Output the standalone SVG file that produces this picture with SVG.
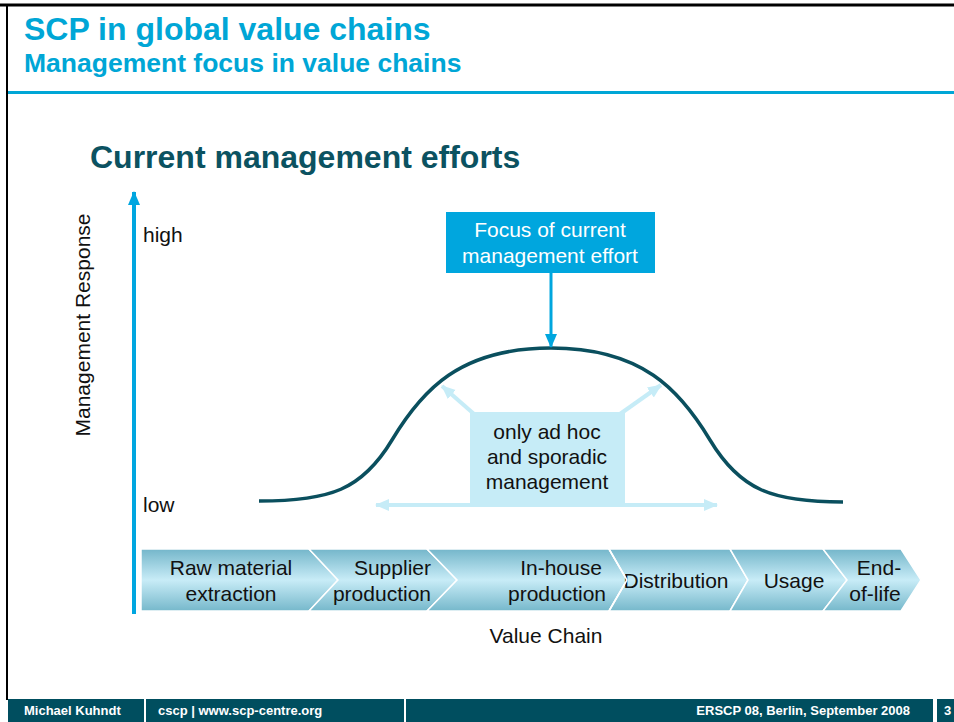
<svg xmlns="http://www.w3.org/2000/svg" width="954" height="722" viewBox="0 0 954 722">
<style>
.t{font-family:"Liberation Sans",Arial,sans-serif;}
.lbl{font-family:"Liberation Sans",Arial,sans-serif;font-size:21px;fill:#111;}
.foot{font-family:"Liberation Sans",Arial,sans-serif;font-size:13px;font-weight:bold;fill:#fff;}
.chev{fill:url(#chevGrad);stroke:#fff;stroke-width:1.5;}
</style>
<defs>
<linearGradient id="chevGrad" x1="0" y1="0" x2="0" y2="1">
<stop offset="0" stop-color="#74B6CA"/>
<stop offset="0.5" stop-color="#C8ECF7"/>
<stop offset="1" stop-color="#76B8CB"/>
</linearGradient>
<marker id="axisHead" markerUnits="userSpaceOnUse" markerWidth="14" markerHeight="14" refX="13" refY="7" orient="auto">
<path d="M0,1 L14,7 L0,13 Z" fill="#00A6E0"/>
</marker>
<marker id="focusHead" markerUnits="userSpaceOnUse" markerWidth="14" markerHeight="14" refX="13" refY="7" orient="auto">
<path d="M0,1 L14,7 L0,13 Z" fill="#00A6DE"/>
</marker>
<marker id="lightHead" markerUnits="userSpaceOnUse" markerWidth="14" markerHeight="14" refX="13" refY="7" orient="auto-start-reverse">
<path d="M0,1 L14,7 L0,13 Z" fill="#C6ECF7"/>
</marker>
</defs>
<rect width="954" height="722" fill="#fff"/>
<!-- frame -->
<line x1="0" y1="5" x2="954" y2="5" stroke="#000" stroke-width="3"/>
<line x1="7" y1="5" x2="7" y2="700" stroke="#000" stroke-width="2"/>
<rect x="8" y="91" width="946" height="3" fill="#00A6D6"/>
<!-- header -->
<g id="header">
<text class="t" x="24" y="40" font-size="32" font-weight="bold" fill="#00A6D6">SCP in global value chains</text>
<text class="t" x="24" y="72" font-size="26.5" font-weight="bold" fill="#00A6D6">Management focus in value chains</text>
<text class="t" x="90" y="168" font-size="32" font-weight="bold" fill="#0B5261">Current management efforts</text>
</g>
<!-- axis -->
<g id="axis">
<line x1="134" y1="614" x2="134" y2="192" stroke="#00A6E0" stroke-width="4" marker-end="url(#axisHead)"/>
<text class="lbl" transform="translate(90,325) rotate(-90)" text-anchor="middle">Management Response</text>
<text class="lbl" x="143" y="242">high</text>
<text class="lbl" x="143" y="512">low</text>
</g>
<!-- curve -->
<g id="curve">
<path d="M259,501 C330,501 362,490 392,440 C422,390 460,348 551,348 C642,348 680,390 710,440 C740,490 772,502 843,502" fill="none" stroke="#0A4F5E" stroke-width="3.5"/>
</g>
<!-- connectors -->
<g id="connectors">
<line x1="551" y1="273" x2="551" y2="347" stroke="#00A6DE" stroke-width="3" marker-end="url(#focusHead)"/>
<line x1="376" y1="505" x2="717" y2="505" stroke="#C6ECF7" stroke-width="4" marker-start="url(#lightHead)" marker-end="url(#lightHead)"/>
<line x1="474" y1="414" x2="442" y2="386" stroke="#C6ECF7" stroke-width="4" marker-end="url(#lightHead)"/>
<line x1="620" y1="414" x2="661" y2="385" stroke="#C6ECF7" stroke-width="4" marker-end="url(#lightHead)"/>
</g>
<!-- focus box -->
<g id="focus">
<rect x="446" y="212" width="209" height="61" fill="#00A6DE"/>
<text class="t" x="550" y="237" font-size="21" fill="#fff" text-anchor="middle">Focus of current</text>
<text class="t" x="550" y="263" font-size="21" fill="#fff" text-anchor="middle">management effort</text>
</g>
<!-- ad hoc box -->
<g id="adhoc">
<rect x="470" y="412" width="155" height="91" fill="#C6ECF7"/>
<text class="lbl" x="547" y="439" text-anchor="middle">only ad hoc</text>
<text class="lbl" x="547" y="464" text-anchor="middle">and sporadic</text>
<text class="lbl" x="547" y="489" text-anchor="middle">management</text>
</g>
<!-- value chain -->
<g id="raw">
<path class="chev" d="M141,549 L309,549 L338,580 L309,611 L141,611 Z"/>
<text class="lbl" x="231" y="575" text-anchor="middle">Raw material</text>
<text class="lbl" x="231" y="601" text-anchor="middle">extraction</text>
</g>
<g id="supplier">
<path class="chev" d="M309,549 L427,549 L457,580 L427,611 L309,611 L338,580 Z"/>
<text class="lbl" x="431" y="575" text-anchor="end">Supplier</text>
<text class="lbl" x="431" y="601" text-anchor="end">production</text>
</g>
<g id="inhouse">
<path class="chev" d="M427,549 L609,549 L627,580 L609,611 L427,611 L457,580 Z"/>
<text class="lbl" x="561" y="575" text-anchor="middle">In-house</text>
<text class="lbl" x="557" y="601" text-anchor="middle">production</text>
</g>
<g id="distribution">
<path class="chev" d="M609,549 L730,549 L748,580 L730,611 L609,611 L627,580 Z"/>
<text class="lbl" x="676" y="588" text-anchor="middle">Distribution</text>
<line x1="609" y1="549" x2="627" y2="580" stroke="#fff" stroke-width="1.5"/>
<line x1="627" y1="580" x2="609" y2="611" stroke="#fff" stroke-width="1.5"/>
</g>
<g id="usage">
<path class="chev" d="M730,549 L823,549 L847,580 L823,611 L730,611 L748,580 Z"/>
<text class="lbl" x="794" y="588" text-anchor="middle">Usage</text>
</g>
<g id="eol">
<path class="chev" d="M823,549 L901,549 L921,580 L901,611 L823,611 L847,580 Z"/>
<text class="lbl" x="879" y="575" text-anchor="middle">End-</text>
<text class="lbl" x="875" y="601" text-anchor="middle">of-life</text>
</g>
<text class="lbl" x="546" y="643" text-anchor="middle">Value Chain</text>
<!-- footer -->
<g id="footer">
<rect x="8" y="699" width="136" height="23" fill="#004E5F"/>
<rect x="146" y="699" width="258" height="23" fill="#004E5F"/>
<rect x="406" y="699" width="527" height="23" fill="#004E5F"/>
<rect x="937" y="699" width="17" height="23" fill="#004E5F"/>
<text class="foot" x="24" y="715">Michael Kuhndt</text>
<text class="foot" x="158" y="715">cscp | www.scp-centre.org</text>
<text class="foot" x="910" y="715" text-anchor="end">ERSCP 08, Berlin, September 2008</text>
<text class="foot" x="944" y="715">3</text>
</g>
</svg>
